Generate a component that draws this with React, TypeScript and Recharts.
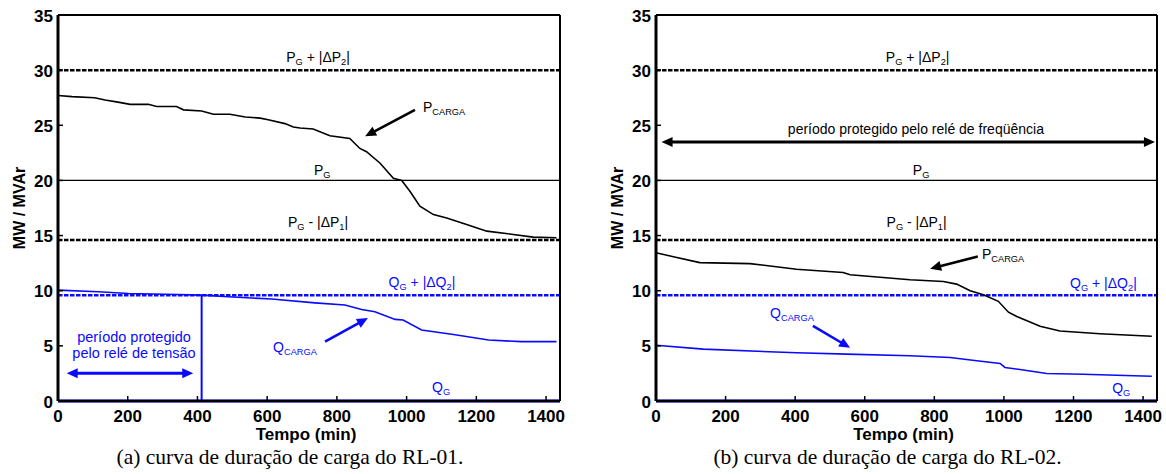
import React from 'react';
import { LineChart, Line, XAxis, YAxis, ReferenceLine, ReferenceDot } from 'recharts';

// RL-01 (a)
const tempoP1 = [0, 40, 105, 135, 172, 207, 259, 283, 340, 360, 412, 446, 493, 537, 580, 603, 651, 675, 694, 732, 780, 837, 866, 885, 924, 962, 986, 1010, 1038, 1077, 1115, 1172, 1230, 1306, 1363, 1430];
const pCarga1 = [27.7, 27.6, 27.5, 27.3, 27.1, 26.9, 26.9, 26.7, 26.7, 26.4, 26.3, 26.0, 26.0, 25.75, 25.65, 25.5, 25.15, 24.85, 24.75, 24.67, 24.05, 23.8, 22.9, 22.6, 21.56, 20.2, 20.0, 19.0, 17.66, 16.9, 16.6, 16.0, 15.4, 15.1, 14.86, 14.8];
const tempoQ1 = [0, 116, 202, 345, 412, 489, 613, 737, 823, 871, 909, 967, 990, 1043, 1139, 1235, 1330, 1430];
const qCarga1 = [10.05, 9.9, 9.75, 9.65, 9.6, 9.45, 9.25, 8.9, 8.7, 8.3, 8.1, 7.4, 7.35, 6.44, 6.0, 5.53, 5.38, 5.38];

// RL-02 (b)
const tempoP2 = [0, 50, 126, 270, 404, 538, 558, 730, 826, 864, 903, 941, 984, 1013, 1037, 1104, 1161, 1276, 1425];
const pCarga2 = [13.45, 13.08, 12.55, 12.46, 11.95, 11.65, 11.44, 11.0, 10.84, 10.6, 10.0, 9.64, 9.04, 8.05, 7.67, 6.77, 6.35, 6.1, 5.87];
const tempoQ2 = [0, 136, 404, 548, 730, 845, 922, 989, 1003, 1046, 1123, 1228, 1324, 1425];
const qCarga2 = [5.06, 4.7, 4.37, 4.25, 4.1, 3.95, 3.65, 3.4, 3.04, 2.86, 2.5, 2.43, 2.34, 2.25];

const xTicks = [0, 200, 400, 600, 800, 1000, 1200, 1400];
const yTicks = [0, 5, 10, 15, 20, 25, 30, 35];

// níveis de referência
const PG = 20;
const PG_MAIS_DP2 = 30;
const PG_MENOS_DP1 = 14.6;
const QG = 0;
const QG_MAIS_DQ2 = 9.6;
const T_RELE_TENSAO = 412;

const BLUE = '#0a0aff';
const FONT = '"Liberation Sans", Arial, Helvetica, sans-serif';
const SERIF = '"Liberation Serif", "Times New Roman", serif';
const TICK_LEN = 5;

const toPoints = (t: number[], v: number[]) => t.map((x, i) => ({ t: x, v: v[i] }));

type Part = [string, boolean?];

function RichText({ cx, cy, parts, color, size, anchor }: any) {
  let shifted = false;
  return (
    <text x={cx} y={cy} fill={color} fontSize={size} fontFamily={FONT} textAnchor={anchor}>
      {parts.map(([s, sub]: Part, i: number) => {
        let dy = 0;
        if (sub && !shifted) dy = 3;
        if (!sub && shifted) dy = -3;
        shifted = !!sub;
        return (
          <tspan key={i} dy={dy} fontSize={sub ? size * 0.66 : size}>
            {s}
          </tspan>
        );
      })}
    </text>
  );
}

const label = (key: string, x: number, y: number, parts: Part[], color = '#000', anchor = 'middle', size = 14) => (
  <ReferenceDot
    key={key}
    x={x}
    y={y}
    r={0}
    ifOverflow="visible"
    shape={(p: any) => <RichText cx={p.cx} cy={p.cy} parts={parts} color={color} size={size} anchor={anchor} />}
  />
);

function Seta({ x1, y1, x2, y2, cor, dupla, espessura }: any) {
  const a = Math.atan2(y2 - y1, x2 - x1);
  const L = 11;
  const W = 5;
  const c = Math.cos(a);
  const s = Math.sin(a);
  const head = (x: number, y: number, dir: number) => {
    const bx = x - dir * L * c;
    const by = y - dir * L * s;
    return `${x},${y} ${bx - s * W},${by + c * W} ${bx + s * W},${by - c * W}`;
  };
  const sx = dupla ? x1 + (L - 2) * c : x1;
  const sy = dupla ? y1 + (L - 2) * s : y1;
  return (
    <g>
      <line x1={sx} y1={sy} x2={x2 - (L - 2) * c} y2={y2 - (L - 2) * s} stroke={cor} strokeWidth={espessura} />
      <polygon points={head(x2, y2, 1)} fill={cor} />
      {dupla && <polygon points={head(x1, y1, -1)} fill={cor} />}
    </g>
  );
}

const arrow = (key: string, from: number[], to: number[], cor = '#000', dupla = false, espessura = 2.6) => (
  <ReferenceLine
    key={key}
    segment={[{ x: from[0], y: from[1] }, { x: to[0], y: to[1] }]}
    ifOverflow="visible"
    shape={(p: any) => <Seta {...p} cor={cor} dupla={dupla} espessura={espessura} />}
  />
);

// ticks voltados para dentro da área do gráfico
const BottomTick = ({ x, y, payload }: any) => (
  <g>
    <line x1={x} y1={y} x2={x} y2={y - TICK_LEN} stroke="#000" strokeWidth={1.5} />
    <text x={x} y={y + 21} textAnchor="middle" fontFamily={FONT} fontWeight="bold" fontSize={17} fill="#000">
      {payload.value}
    </text>
  </g>
);
const LeftTick = ({ x, y, payload }: any) => (
  <g>
    <line x1={x} y1={y} x2={x + TICK_LEN} y2={y} stroke="#000" strokeWidth={1.5} />
    <text x={x - 5} y={y + 6.5} textAnchor="end" fontFamily={FONT} fontWeight="bold" fontSize={17} fill="#000">
      {payload.value}
    </text>
  </g>
);
const TopTick = ({ x, y }: any) => <line x1={x} y1={y} x2={x} y2={y + TICK_LEN} stroke="#000" strokeWidth={1.5} />;
const RightTick = ({ x, y }: any) => <line x1={x} y1={y} x2={x - TICK_LEN} y2={y} stroke="#000" strokeWidth={1.5} />;

const extrasA = [
  <ReferenceLine key="vt" segment={[{ x: T_RELE_TENSAO, y: 0 }, { x: T_RELE_TENSAO, y: QG_MAIS_DQ2 }]} stroke={BLUE} strokeWidth={2} />,
  label('l1', 746, 30.7, [['P'], ['G', true], [' + |ΔP'], ['2', true], ['|']]),
  label('l2', 758, 20.5, [['P'], ['G', true]]),
  label('l3', 746, 15.8, [['P'], ['G', true], [' - |ΔP'], ['1', true], ['|']]),
  label('l4', 1047, 26.2, [['P'], ['CARGA', true]], '#000', 'start'),
  arrow('a1', [1024, 26.4], [881, 24.0]),
  label('l5', 1044, 10.3, [['Q'], ['G', true], [' + |ΔQ'], ['2', true], ['|']], BLUE),
  label('l6', 617, 4.47, [['Q'], ['CARGA', true]], BLUE, 'start'),
  arrow('a2', [766, 5.38], [889, 7.52], BLUE),
  label('l7', 1099, 0.8, [['Q'], ['G', true]], BLUE),
  label('l8', 218, 5.38, [['período protegido']], BLUE, 'middle', 14.5),
  label('l9', 218, 3.93, [['pelo relé de tensão']], BLUE, 'middle', 14.5),
  arrow('a3', [25, 2.51], [388, 2.51], BLUE, true, 3),
];

const extrasB = [
  label('l1', 752, 30.7, [['P'], ['G', true], [' + |ΔP'], ['2', true], ['|']]),
  label('l2', 747, 24.25, [['período protegido pelo relé de freqüência']]),
  arrow('a0', [16, 23.48], [1434, 23.48], '#000', true, 3),
  label('l3', 762, 20.45, [['P'], ['G', true]]),
  label('l4', 749, 15.75, [['P'], ['G', true], [' - |ΔP'], ['1', true], ['|']]),
  label('l5', 937, 12.9, [['P'], ['CARGA', true]], '#000', 'start'),
  arrow('a1', [925, 13.1], [788, 12.0]),
  label('l6', 1286, 10.27, [['Q'], ['G', true], [' + |ΔQ'], ['2', true], ['|']], BLUE),
  label('l7', 328, 7.57, [['Q'], ['CARGA', true]], BLUE, 'start'),
  arrow('a2', [451, 6.82], [558, 4.82], BLUE),
  label('l8', 1337, 0.73, [['Q'], ['G', true]], BLUE),
];

function Painel({ left, width, pData, qData, extras, legenda }: any) {
  return (
    <div style={{ position: 'absolute', left, top: 0, width, height: 474 }}>
      <LineChart width={width} height={474} margin={{ top: 14, right: 19, left: 0, bottom: 0 }}>
        <XAxis
          dataKey="t"
          type="number"
          domain={[0, 1440]}
          ticks={xTicks}
          interval={0}
          height={73}
          tickSize={0}
          tickMargin={0}
          tick={<BottomTick />}
          tickLine={false}
          axisLine={{ stroke: '#000', strokeWidth: 2.5 }}
          label={{
            content: (p: any) => (
              <text
                x={p.viewBox.x + p.viewBox.width / 2 - 3}
                y={p.viewBox.y + 39}
                textAnchor="middle"
                fontFamily={FONT}
                fontWeight="bold"
                fontSize={17}
                fill="#000"
              >
                Tempo (min)
              </text>
            ),
          }}
        />
        <XAxis
          xAxisId="top"
          orientation="top"
          type="number"
          domain={[0, 1440]}
          ticks={xTicks}
          interval={0}
          height={1}
          tickSize={0}
          tickMargin={0}
          tick={<TopTick />}
          tickLine={false}
          axisLine={{ stroke: '#000', strokeWidth: 2 }}
        />
        <YAxis
          type="number"
          domain={[0, 35]}
          ticks={yTicks}
          interval={0}
          width={58}
          tickSize={0}
          tickMargin={0}
          tick={<LeftTick />}
          tickLine={false}
          axisLine={{ stroke: '#000', strokeWidth: 3 }}
          label={{
            content: (p: any) => {
              const cy = p.viewBox.y + p.viewBox.height / 2;
              return (
                <text
                  x={19}
                  y={cy}
                  transform={`rotate(-90, 19, ${cy})`}
                  textAnchor="middle"
                  dominantBaseline="central"
                  fontFamily={FONT}
                  fontWeight="bold"
                  fontSize={16}
                  fill="#000"
                >
                  MW / MVAr
                </text>
              );
            },
          }}
        />
        <YAxis
          yAxisId="r"
          orientation="right"
          type="number"
          domain={[0, 35]}
          ticks={yTicks}
          interval={0}
          width={1}
          tickSize={0}
          tickMargin={0}
          tick={<RightTick />}
          tickLine={false}
          axisLine={{ stroke: '#000', strokeWidth: 2 }}
        />
        <ReferenceLine y={PG_MAIS_DP2} stroke="#000" strokeWidth={2.5} strokeDasharray="4.5 1.5" />
        <ReferenceLine y={PG} stroke="#000" strokeWidth={1.3} />
        <ReferenceLine y={PG_MENOS_DP1} stroke="#000" strokeWidth={2.5} strokeDasharray="4.5 1.5" />
        <ReferenceLine y={QG_MAIS_DQ2} stroke={BLUE} strokeWidth={2.5} strokeDasharray="4.5 1.5" />
        <Line data={pData} dataKey="v" type="linear" stroke="#000" strokeWidth={1.6} dot={false} isAnimationActive={false} />
        <Line data={qData} dataKey="v" type="linear" stroke={BLUE} strokeWidth={1.6} dot={false} isAnimationActive={false} />
        <ReferenceLine y={QG} stroke={BLUE} strokeWidth={3} />
        {extras}
      </LineChart>
      <div
        style={{
          position: 'absolute',
          left: 0,
          top: 447,
          width,
          textAlign: 'center',
          fontFamily: SERIF,
          fontSize: 21.5,
          lineHeight: '21.5px',
          color: '#000',
        }}
      >
        {legenda}
      </div>
    </div>
  );
}

export default function App() {
  return (
    <div style={{ position: 'absolute', left: 0, top: 0, width: 1166, height: 474, background: '#fff', fontFamily: FONT }}>
      <Painel
        left={0}
        width={580}
        pData={toPoints(tempoP1, pCarga1)}
        qData={toPoints(tempoQ1, qCarga1)}
        extras={extrasA}
        legenda="(a) curva de duração de carga do RL-01."
      />
      <Painel
        left={598}
        width={579}
        pData={toPoints(tempoP2, pCarga2)}
        qData={toPoints(tempoQ2, qCarga2)}
        extras={extrasB}
        legenda="(b) curva de duração de carga do RL-02."
      />
    </div>
  );
}
